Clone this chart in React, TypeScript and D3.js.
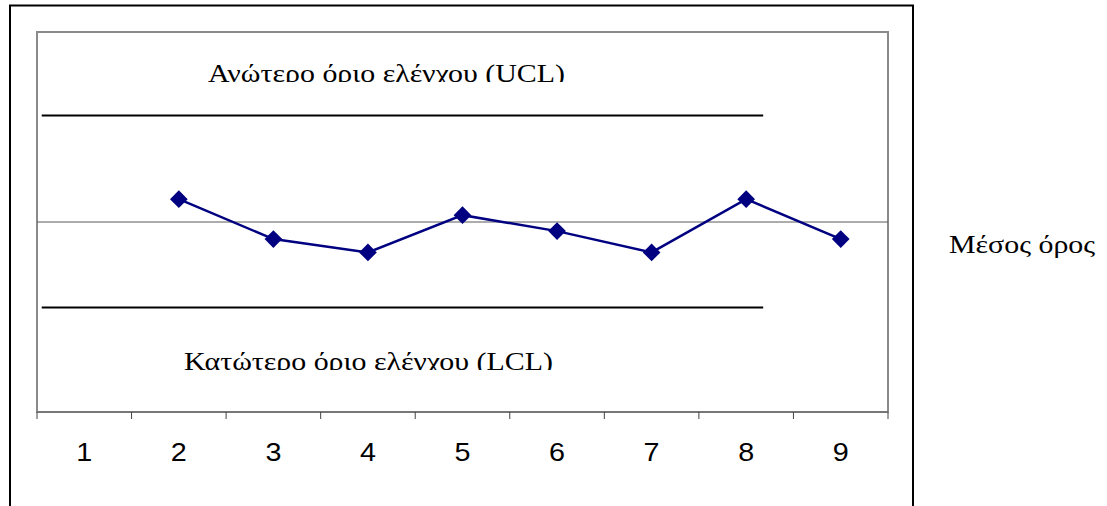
import React from "react";
import * as d3 from "d3";

// Sample numbers along the x axis
const categories: number[] = [1, 2, 3, 4, 5, 6, 7, 8, 9];
// Measured values per sample (sample 1 has no value)
const samples: (number | null)[] = [null, 5.6, 4.55, 4.2, 5.18, 4.76, 4.2, 5.6, 4.55];
// Control limits and centre line
const centreValue = 5;
const uclValue = 7.8;
const lclValue = 2.75;
// Horizontal extent of the limit lines, in category units
const limitSpan: [number, number] = [0.55, 8.18];

const uclLabel = "Ανώτερο όριο ελέγχου (UCL)";
const lclLabel = "Κατώτερο όριο ελέγχου (LCL)";
const centreLabel = "Μέσος όρος";

const W = 1107;
const H = 506;
const plot = { left: 37, top: 32, right: 888, bottom: 412 };
// The chart's text is stretched horizontally
const stretch = 1.15;

export default function App() {
  const x = d3
    .scaleBand<number>()
    .domain(categories)
    .range([plot.left, plot.right])
    .paddingInner(0)
    .paddingOuter(0);
  const xc = (c: number) => (x(c) as number) + x.bandwidth() / 2;
  const xLin = d3
    .scaleLinear()
    .domain([0.5, categories.length + 0.5])
    .range([plot.left, plot.right]);
  const y = d3.scaleLinear().domain([0, 10]).range([plot.bottom, plot.top]);

  const pts = categories
    .map((c, i) => ({ c, v: samples[i] }))
    .filter((d) => d.v !== null) as { c: number; v: number }[];

  const line = d3
    .line<{ c: number; v: number }>()
    .x((d) => xc(d.c))
    .y((d) => y(d.v));

  const diamond = d3.symbol().type(d3.symbolDiamond2).size(200)();

  const boundaries = d3.range(categories.length + 1).map((i) => plot.left + i * x.bandwidth());

  const serif = "'Liberation Serif', 'Times New Roman', serif";
  const sans = "'Liberation Sans', Arial, sans-serif";

  const uclY = y(uclValue);
  const lclY = y(lclValue);

  const tr = (tx: number, ty: number) => `translate(${tx},${ty}) scale(${stretch},1)`;

  return (
    <svg
      width={W}
      height={H}
      style={{ position: "absolute", left: 0, top: 0, background: "#fff" }}
    >
      <defs>
        <clipPath id="clipUcl">
          <rect x={0} y={0} width={W} height={82} />
        </clipPath>
        <clipPath id="clipLcl">
          <rect x={0} y={0} width={W} height={370} />
        </clipPath>
      </defs>

      {/* outer chart frame */}
      <rect x={10} y={5.5} width={903} height={530} fill="none" stroke="#000" strokeWidth={2} />

      {/* plot area */}
      <rect
        x={plot.left}
        y={plot.top}
        width={plot.right - plot.left}
        height={plot.bottom - plot.top}
        fill="#fff"
        stroke="#8a8a8a"
        strokeWidth={2}
      />

      {/* centre line */}
      <line
        x1={plot.left}
        x2={plot.right}
        y1={y(centreValue)}
        y2={y(centreValue)}
        stroke="#5a5a5a"
        strokeWidth={1}
      />

      {/* control limits */}
      <line x1={xLin(limitSpan[0])} x2={xLin(limitSpan[1])} y1={uclY} y2={uclY} stroke="#000" strokeWidth={2} />
      <line x1={xLin(limitSpan[0])} x2={xLin(limitSpan[1])} y1={lclY} y2={lclY} stroke="#000" strokeWidth={2} />

      <g clipPath="url(#clipUcl)">
        <text transform={tr(208, 82)} fontFamily={serif} fontSize={26} fill="#000">
          {uclLabel}
        </text>
      </g>
      <g clipPath="url(#clipLcl)">
        <text transform={tr(184, 370)} fontFamily={serif} fontSize={26} fill="#000">
          {lclLabel}
        </text>
      </g>

      {/* x axis */}
      <line x1={plot.left} x2={plot.right} y1={plot.bottom} y2={plot.bottom} stroke="#777" strokeWidth={2} />
      {boundaries.map((bx, i) => (
        <line key={i} x1={bx} x2={bx} y1={plot.bottom} y2={plot.bottom + 7} stroke="#444" strokeWidth={1} />
      ))}
      {categories.map((c) => (
        <text
          key={c}
          transform={tr(xc(c), 461)}
          textAnchor="middle"
          fontFamily={sans}
          fontSize={25}
          fill="#000"
        >
          {c}
        </text>
      ))}

      {/* sample series */}
      <path d={line(pts) || ""} fill="none" stroke="#000080" strokeWidth={2.5} />
      {pts.map((d) => (
        <path key={d.c} d={diamond || ""} transform={`translate(${xc(d.c)},${y(d.v)})`} fill="#000080" />
      ))}

      <text transform={tr(949, 253)} fontFamily={serif} fontSize={26} fill="#000">
        {centreLabel}
      </text>
    </svg>
  );
}
